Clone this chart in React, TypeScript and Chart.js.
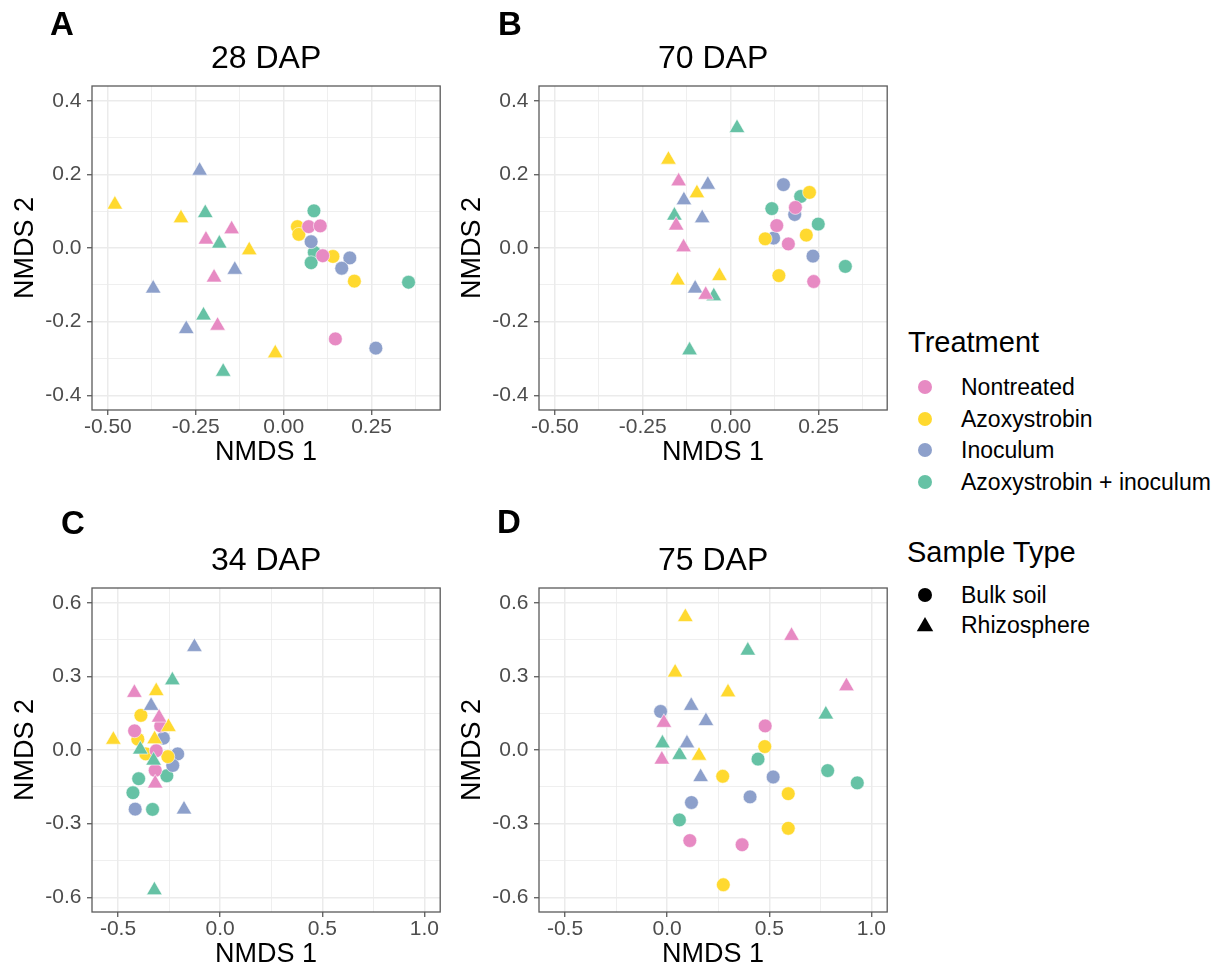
import React, { useEffect, useRef } from "react";
import { Chart, registerables } from "chart.js";

Chart.register(...registerables);

const FONT = '"Liberation Sans", Arial, Helvetica, sans-serif';

const TREATMENTS = ["Nontreated", "Azoxystrobin", "Inoculum", "Azoxystrobin + inoculum"];
const TREATMENT_COLORS = ["#E78AC3", "#FFD92F", "#8DA0CB", "#66C2A5"];
const SAMPLE_TYPES = ["Bulk soil", "Rhizosphere"];

// ---- 28 DAP (A) ----
const dap28BulkNontreated = [[0.071, 0.058], [0.104, 0.06], [0.111, -0.021], [0.147, -0.247]];
const dap28BulkAzoxy = [[0.039, 0.058], [0.043, 0.037], [0.14, -0.023], [0.201, -0.09]];
const dap28BulkInoculum = [[0.078, 0.017], [0.188, -0.027], [0.165, -0.055], [0.262, -0.272]];
const dap28BulkAzoxyInoc = [[0.086, 0.101], [0.087, -0.012], [0.078, -0.04], [0.355, -0.093]];
const dap28RhizNontreated = [[-0.148, 0.051], [-0.221, 0.023], [-0.198, -0.08], [-0.188, -0.211]];
const dap28RhizAzoxy = [[-0.48, 0.118], [-0.292, 0.081], [-0.098, -0.006], [-0.024, -0.286]];
const dap28RhizInoculum = [[-0.239, 0.21], [-0.139, -0.059], [-0.371, -0.11], [-0.277, -0.22]];
const dap28RhizAzoxyInoc = [[-0.223, 0.095], [-0.183, 0.012], [-0.228, -0.183], [-0.172, -0.336]];

// ---- 70 DAP (B) ----
const dap70BulkNontreated = [[0.184, 0.11], [0.131, 0.061], [0.164, 0.011], [0.236, -0.091]];
const dap70BulkAzoxy = [[0.224, 0.151], [0.098, 0.025], [0.215, 0.035], [0.137, -0.075]];
const dap70BulkInoculum = [[0.15, 0.172], [0.182, 0.091], [0.122, 0.027], [0.234, -0.022]];
const dap70BulkAzoxyInoc = [[0.199, 0.14], [0.117, 0.107], [0.249, 0.065], [0.326, -0.05]];
const dap70RhizNontreated = [[-0.148, 0.181], [-0.155, 0.061], [-0.134, 0.002], [-0.071, -0.127]];
const dap70RhizAzoxy = [[-0.177, 0.24], [-0.096, 0.149], [-0.151, -0.088], [-0.032, -0.076]];
const dap70RhizInoculum = [[-0.065, 0.172], [-0.133, 0.13], [-0.081, 0.081], [-0.101, -0.11]];
const dap70RhizAzoxyInoc = [[0.018, 0.326], [-0.16, 0.088], [-0.048, -0.131], [-0.117, -0.278]];

// ---- 34 DAP (C) ----
const dap34BulkNontreated = [[-0.291, 0.098], [-0.419, 0.078], [-0.313, -0.003], [-0.318, -0.083]];
const dap34BulkAzoxy = [[-0.388, 0.141], [-0.403, 0.044], [-0.364, -0.016], [-0.256, -0.027]];
const dap34BulkInoculum = [[-0.278, 0.048], [-0.208, -0.016], [-0.232, -0.063], [-0.416, -0.241]];
const dap34BulkAzoxyInoc = [[-0.399, -0.117], [-0.261, -0.105], [-0.427, -0.174], [-0.331, -0.242]];
const dap34RhizNontreated = [[-0.42, 0.233], [-0.299, 0.132], [-0.318, -0.136]];
const dap34RhizAzoxy = [[-0.313, 0.24], [-0.253, 0.094], [-0.523, 0.042], [-0.321, 0.044]];
const dap34RhizInoculum = [[-0.338, 0.18], [-0.126, 0.42], [-0.177, -0.242]];
const dap34RhizAzoxyInoc = [[-0.234, 0.284], [-0.391, 0.002], [-0.326, -0.043], [-0.322, -0.571]];

// ---- 75 DAP (D) ----
const dap75BulkNontreated = [[0.48, 0.098], [0.111, -0.369], [0.367, -0.386]];
const dap75BulkAzoxy = [[0.478, 0.014], [0.272, -0.107], [0.593, -0.178], [0.593, -0.319], [0.275, -0.549]];
const dap75BulkInoculum = [[-0.032, 0.157], [0.519, -0.11], [0.406, -0.191], [0.119, -0.214]];
const dap75BulkAzoxyInoc = [[0.445, -0.037], [0.786, -0.084], [0.931, -0.134], [0.06, -0.285]];
const dap75RhizNontreated = [[0.609, 0.465], [0.878, 0.26], [-0.016, 0.111], [-0.026, -0.039]];
const dap75RhizAzoxy = [[0.089, 0.542], [0.039, 0.316], [0.298, 0.235], [0.156, -0.023]];
const dap75RhizInoculum = [[0.118, 0.18], [0.19, 0.118], [0.097, 0.027], [0.164, -0.11]];
const dap75RhizAzoxyInoc = [[0.395, 0.405], [0.777, 0.145], [-0.023, 0.027], [0.061, -0.02]];

// ---- ticks ----
const xTicksTop = [-0.5, -0.25, 0, 0.25];
const xTickLabelsTop = ["-0.50", "-0.25", "0.00", "0.25"];
const xMinorTop = [-0.375, -0.125, 0.125, 0.375];
const yTicksTop = [-0.4, -0.2, 0, 0.2, 0.4];
const yTickLabelsTop = ["-0.4", "-0.2", "0.0", "0.2", "0.4"];
const yMinorTop = [-0.3, -0.1, 0.1, 0.3];

const xTicksBottom = [-0.5, 0, 0.5, 1.0];
const xTickLabelsBottom = ["-0.5", "0.0", "0.5", "1.0"];
const xMinorBottom = [-0.25, 0.25, 0.75];
const yTicksBottom = [-0.6, -0.3, 0, 0.3, 0.6];
const yTickLabelsBottom = ["-0.6", "-0.3", "0.0", "0.3", "0.6"];
const yMinorBottom = [-0.45, -0.15, 0.15, 0.45];

type Pt = number[];
type PanelDef = {
  letter: string;
  title: string;
  bulk: Pt[][];
  rhiz: Pt[][];
  xLim: number[];
  yLim: number[];
  xMajor: number[];
  xLabels: string[];
  xMinor: number[];
  yMajor: number[];
  yLabels: string[];
  yMinor: number[];
  left: number;
  top: number;
  letterLeft: number;
  letterTop: number;
};

const PANELS: PanelDef[] = [
  {
    letter: "A", title: "28 DAP",
    bulk: [dap28BulkNontreated, dap28BulkAzoxy, dap28BulkInoculum, dap28BulkAzoxyInoc],
    rhiz: [dap28RhizNontreated, dap28RhizAzoxy, dap28RhizInoculum, dap28RhizAzoxyInoc],
    xLim: [-0.545, 0.445], yLim: [-0.44, 0.44],
    xMajor: xTicksTop, xLabels: xTickLabelsTop, xMinor: xMinorTop,
    yMajor: yTicksTop, yLabels: yTickLabelsTop, yMinor: yMinorTop,
    left: 0, top: 0, letterLeft: 50, letterTop: 7,
  },
  {
    letter: "B", title: "70 DAP",
    bulk: [dap70BulkNontreated, dap70BulkAzoxy, dap70BulkInoculum, dap70BulkAzoxyInoc],
    rhiz: [dap70RhizNontreated, dap70RhizAzoxy, dap70RhizInoculum, dap70RhizAzoxyInoc],
    xLim: [-0.545, 0.445], yLim: [-0.44, 0.44],
    xMajor: xTicksTop, xLabels: xTickLabelsTop, xMinor: xMinorTop,
    yMajor: yTicksTop, yLabels: yTickLabelsTop, yMinor: yMinorTop,
    left: 447, top: 0, letterLeft: 498, letterTop: 7,
  },
  {
    letter: "C", title: "34 DAP",
    bulk: [dap34BulkNontreated, dap34BulkAzoxy, dap34BulkInoculum, dap34BulkAzoxyInoc],
    rhiz: [dap34RhizNontreated, dap34RhizAzoxy, dap34RhizInoculum, dap34RhizAzoxyInoc],
    xLim: [-0.6275, 1.0775], yLim: [-0.66, 0.66],
    xMajor: xTicksBottom, xLabels: xTickLabelsBottom, xMinor: xMinorBottom,
    yMajor: yTicksBottom, yLabels: yTickLabelsBottom, yMinor: yMinorBottom,
    left: 0, top: 502, letterLeft: 61, letterTop: 506,
  },
  {
    letter: "D", title: "75 DAP",
    bulk: [dap75BulkNontreated, dap75BulkAzoxy, dap75BulkInoculum, dap75BulkAzoxyInoc],
    rhiz: [dap75RhizNontreated, dap75RhizAzoxy, dap75RhizInoculum, dap75RhizAzoxyInoc],
    xLim: [-0.6275, 1.0775], yLim: [-0.66, 0.66],
    xMajor: xTicksBottom, xLabels: xTickLabelsBottom, xMinor: xMinorBottom,
    yMajor: yTicksBottom, yLabels: yTickLabelsBottom, yMinor: yMinorBottom,
    left: 447, top: 502, letterLeft: 497, letterTop: 505,
  },
];

const CANVAS_W = 450;
const CANVAS_H = 468;

const panelBorder = {
  id: "panelBorder",
  afterDatasetsDraw(chart: any) {
    const { ctx, chartArea: a } = chart;
    ctx.save();
    ctx.strokeStyle = "#5a5a5a";
    ctx.lineWidth = 1.3;
    ctx.strokeRect(a.left, a.top, a.right - a.left, a.bottom - a.top);
    ctx.restore();
  },
};

const isIn = (v: number, arr: number[]) => arr.some((m) => Math.abs(m - v) < 1e-9);

function axisOpts(axis: "x" | "y", p: PanelDef) {
  const major = axis === "x" ? p.xMajor : p.yMajor;
  const labels = axis === "x" ? p.xLabels : p.yLabels;
  const minor = axis === "x" ? p.xMinor : p.yMinor;
  const lim = axis === "x" ? p.xLim : p.yLim;
  const all = [...major, ...minor].sort((a, b) => a - b);
  return {
    type: "linear",
    position: axis === "x" ? "bottom" : "left",
    min: lim[0],
    max: lim[1],
    afterBuildTicks: (s: any) => {
      s.ticks = all.map((v) => ({ value: v }));
    },
    afterFit: (s: any) => {
      if (axis === "x") s.height = 58;
      else s.width = 92;
    },
    ticks: {
      autoSkip: false,
      maxRotation: 0,
      minRotation: 0,
      padding: axis === "x" ? 2 : 5.5,
      color: "#4D4D4D",
      font: { family: FONT, size: 21, lineHeight: 1 },
      callback: (value: number) => {
        const i = major.findIndex((m) => Math.abs(m - value) < 1e-9);
        return i >= 0 ? labels[i] : "";
      },
    },
    grid: {
      color: "#EBEBEB",
      lineWidth: (ctx: any) => (ctx.tick && isIn(ctx.tick.value, major) ? 1.5 : 0.8),
      tickColor: (ctx: any) => (ctx.tick && isIn(ctx.tick.value, major) ? "#4d4d4d" : "rgba(0,0,0,0)"),
      tickLength: 5,
      tickWidth: 1.2,
      drawTicks: true,
    },
    border: { display: false },
    title: {
      display: true,
      text: axis === "x" ? "NMDS 1" : "NMDS 2",
      color: "#000",
      font: { family: FONT, size: 27, lineHeight: 1 },
      padding: axis === "x" ? { top: 0, bottom: 1.5 } : { top: 12.5, bottom: 0 },
    },
  };
}

function buildDatasets(p: PanelDef) {
  const ds: any[] = [];
  const add = (series: Pt[][], typeIdx: number) => {
    series.forEach((pts, t) => {
      ds.push({
        label: `${TREATMENTS[t]} – ${SAMPLE_TYPES[typeIdx]}`,
        data: pts.map(([x, y]) => ({ x, y })),
        pointStyle: typeIdx === 0 ? "circle" : "triangle",
        pointRadius: typeIdx === 0 ? 6.9 : 9,
        pointHoverRadius: typeIdx === 0 ? 6.9 : 9,
        backgroundColor: TREATMENT_COLORS[t],
        borderColor: "rgba(255,255,255,0.7)",
        borderWidth: 0.8,
      });
    });
  };
  add(p.rhiz, 1);
  add(p.bulk, 0);
  return ds;
}

function Panel({ p }: { p: PanelDef }) {
  const ref = useRef<HTMLCanvasElement>(null);
  useEffect(() => {
    if (!ref.current) return;
    const chart = new Chart(ref.current, {
      type: "scatter",
      data: { datasets: buildDatasets(p) },
      options: {
        animation: false,
        responsive: false,
        maintainAspectRatio: false,
        events: [],
        layout: { padding: { left: 0, right: 6, top: 0, bottom: 0 } },
        plugins: {
          legend: { display: false },
          tooltip: { enabled: false },
          title: {
            display: true,
            text: p.title,
            fullSize: false,
            color: "#000",
            font: { family: FONT, size: 32, weight: "normal", lineHeight: 1 },
            padding: { top: 43, bottom: 11 },
          },
        },
        scales: {
          x: axisOpts("x", p) as any,
          y: axisOpts("y", p) as any,
        },
      } as any,
      plugins: [panelBorder],
    });
    return () => chart.destroy();
  }, [p]);
  return (
    <canvas
      ref={ref}
      width={CANVAS_W}
      height={CANVAS_H}
      style={{ position: "absolute", left: p.left, top: p.top, width: CANVAS_W, height: CANVAS_H, display: "block" }}
    />
  );
}

function Marker({ shape, color }: { shape: "circle" | "triangle"; color: string }) {
  return (
    <svg width={24} height={24} style={{ display: "block" }}>
      {shape === "circle" ? (
        <circle cx={12} cy={12} r={7} fill={color} />
      ) : (
        <polygon points="12,2.5 20.2,16.75 3.8,16.75" fill={color} transform="translate(0,1.5)" />
      )}
    </svg>
  );
}

function LegendRow({ y, label, shape, color }: { y: number; label: string; shape: "circle" | "triangle"; color: string }) {
  return (
    <div style={{ position: "absolute", left: 913, top: y - 16, height: 32, display: "flex", alignItems: "center", whiteSpace: "nowrap" }}>
      <Marker shape={shape} color={color} />
      <span style={{ marginLeft: 24, fontSize: 23, lineHeight: "32px", color: "#000" }}>{label}</span>
    </div>
  );
}

export default function App() {
  const treatmentRowY = [386.7, 418.5, 450, 481.7];
  const typeRowY = [595, 625];
  return (
    <div
      style={{
        position: "absolute",
        left: 0,
        top: 0,
        width: 1225,
        height: 970,
        overflow: "hidden",
        background: "#fff",
        fontFamily: FONT,
      }}
    >
      {PANELS.map((p) => (
        <React.Fragment key={p.letter}>
          <Panel p={p} />
          <div
            style={{
              position: "absolute",
              left: p.letterLeft,
              top: p.letterTop + 1,
              fontSize: 33,
              lineHeight: "32px",
              fontWeight: "bold",
              color: "#000",
            }}
          >
            {p.letter}
          </div>
        </React.Fragment>
      ))}
      <div style={{ position: "absolute", left: 908, top: 342 - 16, fontSize: 29, lineHeight: "32px", color: "#000", whiteSpace: "nowrap" }}>
        Treatment
      </div>
      {TREATMENTS.map((t, i) => (
        <LegendRow key={t} y={treatmentRowY[i]} label={t} shape="circle" color={TREATMENT_COLORS[i]} />
      ))}
      <div style={{ position: "absolute", left: 907, top: 552 - 16, fontSize: 29, lineHeight: "32px", color: "#000", whiteSpace: "nowrap" }}>
        Sample Type
      </div>
      {SAMPLE_TYPES.map((s, i) => (
        <LegendRow key={s} y={typeRowY[i]} label={s} shape={i === 0 ? "circle" : "triangle"} color="#000" />
      ))}
    </div>
  );
}
